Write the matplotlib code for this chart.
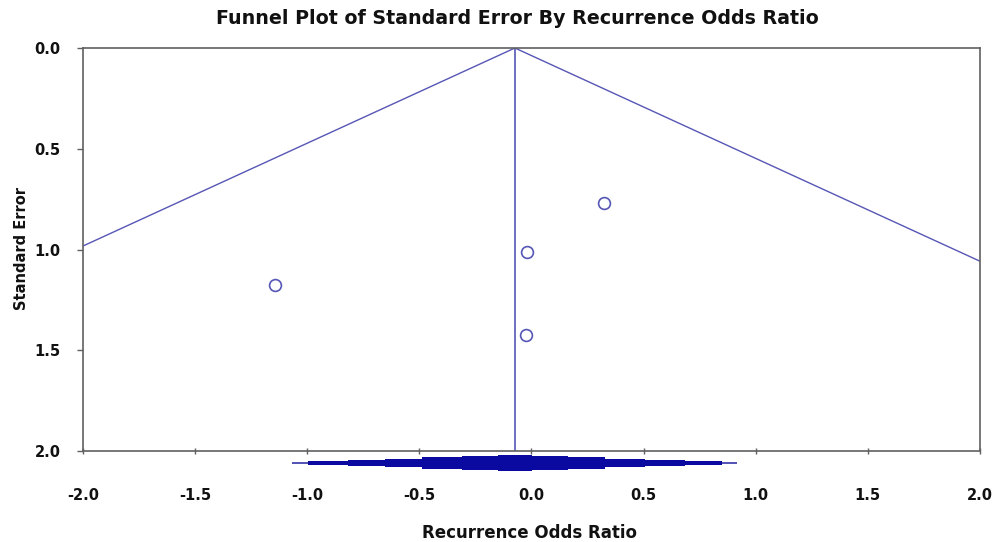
import numpy as np
import matplotlib.pyplot as plt

plt.rcParams['font.family'] = ['DejaVu Sans']

# studies: log odds ratio and standard error
log_or = [-1.145, 0.325, -0.02, -0.025]
std_err = [1.177, 0.768, 1.012, 1.426]

# pooled estimate
pooled = -0.074

# stepped summary diamond (left edge, right edge, half thickness level)
diamond_left = [-1.069, -0.998, -0.819, -0.654, -0.489, -0.310, -0.150]
diamond_right = [0.917, 0.850, 0.685, 0.507, 0.328, 0.163, 0.002]
diamond_level = [0.1, 0.27, 0.4, 0.53, 0.7, 0.85, 1.0]

xticks = [-2.0, -1.5, -1.0, -0.5, 0.0, 0.5, 1.0, 1.5, 2.0]
yticks = [0.0, 0.5, 1.0, 1.5, 2.0]

line_col = '#5656b6'
fill_col = '#0a0aa0'
spine_col = '#606060'

fig = plt.figure(figsize=(10.03, 5.42), dpi=100)
ax = fig.add_axes([83 / 1003, 1 - 451 / 542, 897 / 1003, 403 / 542])

# funnel lines (95% limits)
se = np.array([0.0, 2.0])
ax.plot(pooled - 1.96 * se, se, color=line_col, lw=1)
ax.plot(pooled + 1.96 * se, se, color=line_col, lw=1)
ax.plot([pooled, pooled], [0, 2], color=line_col, lw=1.2)

ax.plot(log_or, std_err, 'o', ms=8.5, mfc='none', mec=line_col, mew=1.2)

ax.set_xlim(-2, 2)
ax.set_ylim(2, 0)
ax.set_xticks(xticks)
ax.set_yticks(yticks)
ax.set_xticklabels([f"{v:.1f}" for v in xticks])
ax.set_yticklabels([f"{v:.1f}" for v in yticks])
for s in ax.spines.values():
    s.set_color(spine_col)
    s.set_linewidth(1.2)
ax.tick_params(axis='x', direction='inout', length=5, width=1, color=spine_col,
               pad=24, labelsize=10.5, labelcolor='#111111')
ax.tick_params(axis='y', direction='out', length=4, width=1, color=spine_col,
               pad=12, labelsize=10.5, labelcolor='#111111')
for lb in ax.get_xticklabels() + ax.get_yticklabels():
    lb.set_fontweight('bold')

# diamond below the axes
dax = fig.add_axes([83 / 1003, 1 - 471 / 542, 897 / 1003, 16 / 542])
dax.set_xlim(-2, 2)
dax.set_ylim(-1, 1)
for i, (l, r, h) in enumerate(zip(diamond_left, diamond_right, diamond_level)):
    col = line_col if i == 0 else fill_col
    dax.barh(0, r - l, left=l, height=2 * h, color=col, linewidth=0)
dax.axis('off')

fig.text(517 / 1003, 1 - 19 / 542, "Funnel Plot of Standard Error By Recurrence Odds Ratio",
         ha='center', va='center', fontsize=13.7, fontweight='bold', color='#111111')
fig.text(530 / 1003, 1 - 533 / 542, "Recurrence Odds Ratio",
         ha='center', va='center', fontsize=12, fontweight='bold', color='#111111')
fig.text(22 / 1003, 1 - 249 / 542, "Standard Error", rotation=90,
         ha='center', va='center', fontsize=10.5, fontweight='bold', color='#111111')

fig.savefig('out.png', dpi=100)
